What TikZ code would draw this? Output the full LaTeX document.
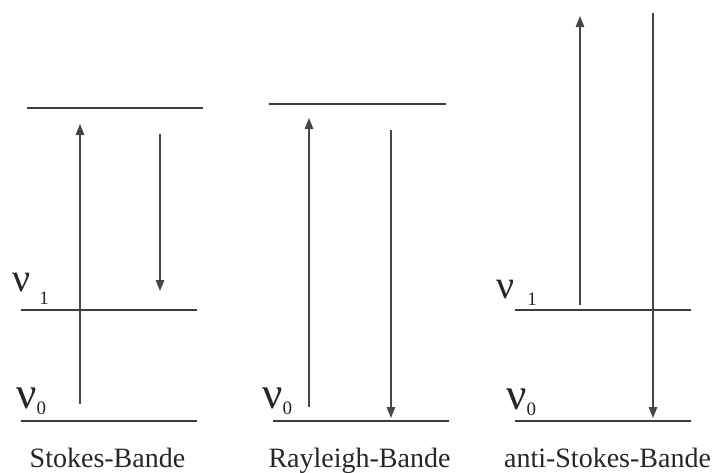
\documentclass[tikz,border=0pt]{standalone}
\usepackage{fontspec}
\setmainfont{Liberation Serif}
\usetikzlibrary{arrows.meta}
\definecolor{levelgray}{HTML}{3C3C3C}
\definecolor{photongray}{HTML}{464646}
\definecolor{textgray}{HTML}{262626}

\tikzset{
  energylevel/.style={draw=levelgray, line width=2.2pt},
  photon/.style={draw=photongray, line width=1.3pt,
    -{Triangle[length=11pt,width=8.5pt]}, shorten >=-1pt},
  freq/.style={inner sep=0pt, anchor=base west, text=textgray,
    font=\fontsize{45}{45}\selectfont},
  band/.style={inner sep=0pt, anchor=base, text=textgray,
    font=\fontsize{28}{28}\selectfont}
}
\newcommand{\idx}[1]{\raisebox{-6pt}{\fontsize{19}{19}\selectfont #1}}

\begin{document}
\begin{tikzpicture}[x=1pt, y=-1pt]
  \useasboundingbox (0,0) rectangle (716,472);

  % Stokes
  \draw[energylevel] (27,108) -- (203,108);
  \draw[energylevel] (21,310) -- (197,310);
  \draw[energylevel] (21,421) -- (197,421);
  \node[freq, font=\fontsize{40}{40}\selectfont] (s-nu1) at (12,291)
    {ν\hspace{9pt}\raisebox{-13pt}{\fontsize{19}{19}\selectfont 1}};
  \node[freq] (s-nu0) at (16,408) {ν\idx{0}};
  \coordinate (s-up-a) at (80,404);
  \coordinate (s-up-b) at (80,125);
  \coordinate (s-dn-a) at (160,134);
  \coordinate (s-dn-b) at (160,290);
  \draw[photon] (s-up-a) -- (s-up-b);
  \draw[photon] (s-dn-a) -- (s-dn-b);
  \node[band] (stokes) at (107.5,467) {Stokes-Bande};

  % Rayleigh
  \draw[energylevel] (269,104) -- (446,104);
  \draw[energylevel] (273,421) -- (449,421);
  \node[freq] (r-nu0) at (262,408) {ν\idx{0}};
  \coordinate (r-up-a) at (309,407);
  \coordinate (r-up-b) at (309,119);
  \coordinate (r-dn-a) at (391,130);
  \coordinate (r-dn-b) at (391,417);
  \draw[photon] (r-up-a) -- (r-up-b);
  \draw[photon] (r-dn-a) -- (r-dn-b);
  \node[band] (rayleigh) at (359.5,467) {Rayleigh-Bande};

  % anti-Stokes
  \draw[energylevel] (515,310) -- (691,310);
  \draw[energylevel] (515,421) -- (691,421);
  \node[freq, font=\fontsize{40}{40}\selectfont] (a-nu1) at (496,298)
    {ν\hspace{13pt}\raisebox{-7pt}{\fontsize{19}{19}\selectfont 1}};
  \node[freq] (a-nu0) at (506,409) {ν\idx{0}};
  \coordinate (a-up-a) at (580,305);
  \coordinate (a-up-b) at (580,17);
  \coordinate (a-dn-a) at (653,13);
  \coordinate (a-dn-b) at (653,417);
  \draw[photon] (a-up-a) -- (a-up-b);
  \draw[photon] (a-dn-a) -- (a-dn-b);
  \node[band] (antistokes) at (607.5,467) {anti-Stokes-Bande};
\end{tikzpicture}
\end{document}
